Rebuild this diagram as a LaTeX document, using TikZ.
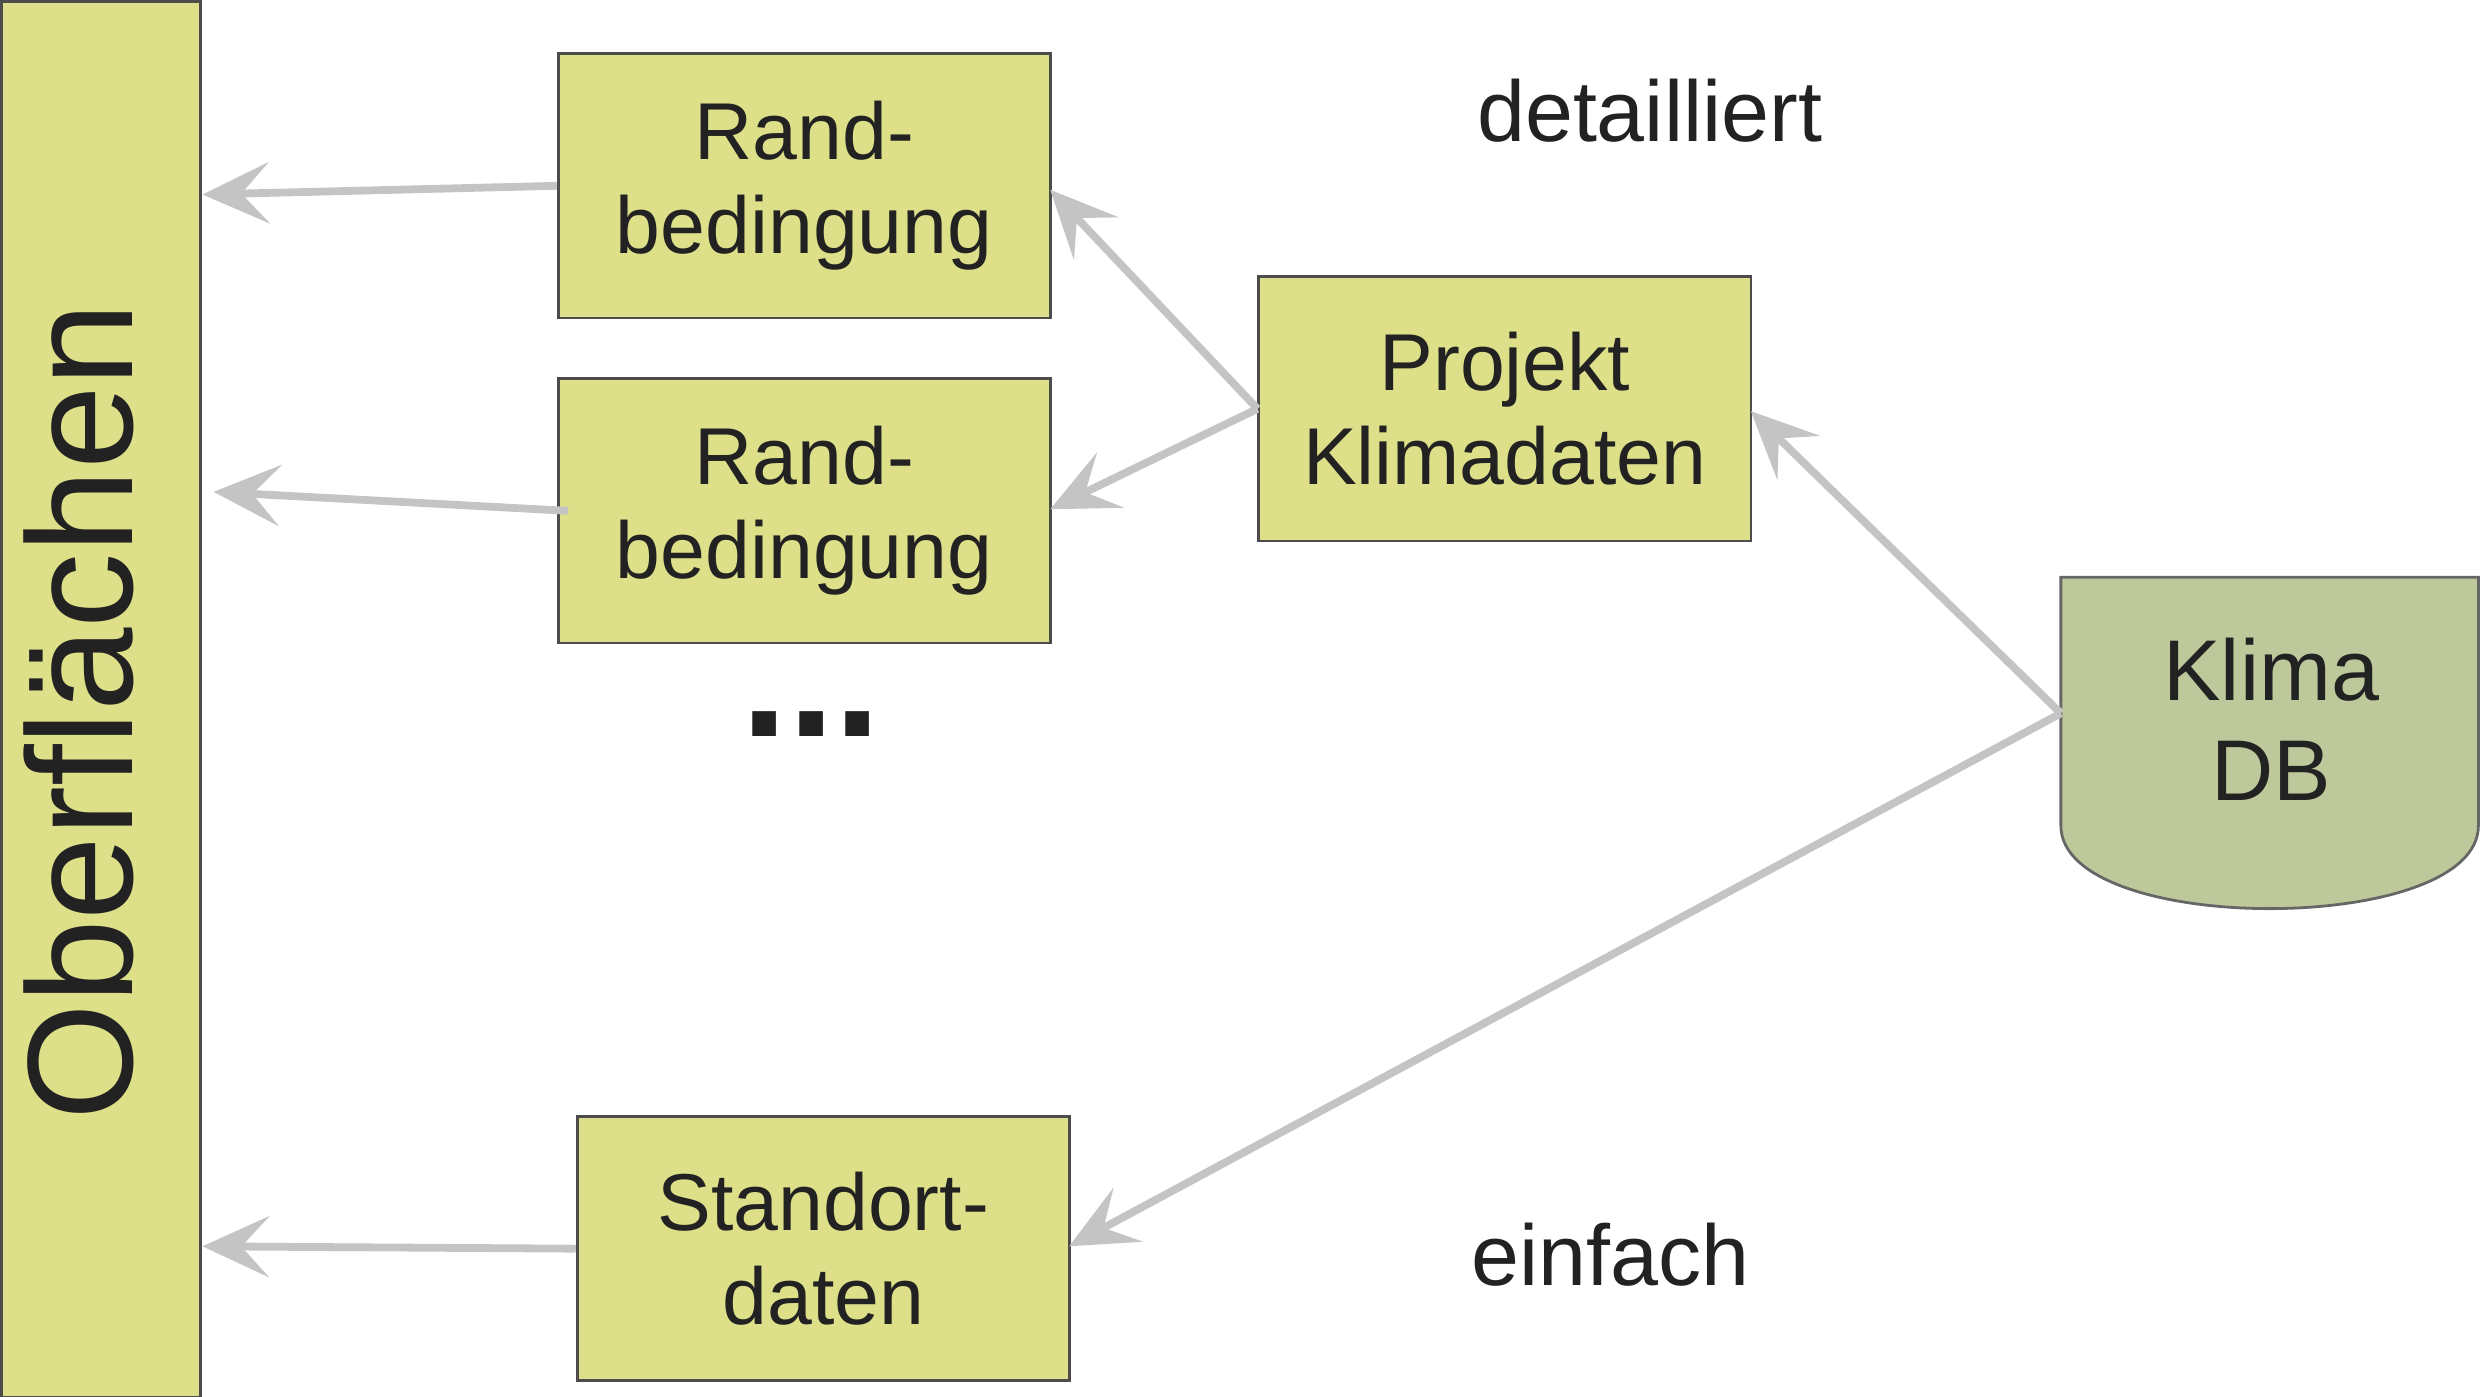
\documentclass[tikz,border=0pt]{standalone}
\usepackage{fontspec}
\setmainfont{Liberation Sans}
\usetikzlibrary{arrows.meta}
\definecolor{boxg}{HTML}{DDE089}
\definecolor{dbg}{HTML}{BDC89B}
\definecolor{arr}{HTML}{C4C4C4}
\definecolor{txt}{HTML}{222222}
\begin{document}
\begin{tikzpicture}[x=0.01cm,y=-0.01cm,
  box/.style={draw=black!70,line width=0.5pt,fill=boxg,minimum width=3.11cm,minimum height=1.67cm,align=center,inner sep=0pt,font=\fontsize{14.5}{17}\selectfont,text=txt},
  con/.style={draw=arr,line width=1.4pt,-{Stealth[length=12pt,width=11pt,inset=5pt]}},
  lbl/.style={font=\fontsize{15.5}{18}\selectfont,text=txt}]
\useasboundingbox (0,0) rectangle (1568,883);
\node[draw=black!70,line width=0.5pt,fill=boxg,minimum width=1.26cm,minimum height=8.82cm,inner sep=0pt,anchor=north west] (ob) at (0,0) {};
\node[rotate=90,font=\fontsize{27}{30}\selectfont,text=txt] at (50,450) {Oberflächen};
\node[box] (r1) at (508.5,117.5) {Rand-\\bedingung};
\node[box] (r2) at (508.5,323) {Rand-\\bedingung};
\node[box] (sd) at (520.5,789.5) {Standort-\\daten};
\node[box] (pk) at (951.5,258.5) {Projekt\\Klimadaten};
\path[draw=black!60,line width=0.5pt,fill=dbg] (1303,365) -- (1567,365) -- (1567,522) .. controls (1567,592) and (1303,592) .. (1303,522) -- cycle;
\node[lbl,align=center] (db) at (1436,455) {Klima\\DB};
\coordinate (dbw) at (1303,451);
\node[lbl] (det) at (1043,70) {detailliert};
\node[lbl] (einf) at (1018,793) {einfach};
\node[font=\fontsize{30}{30}\bfseries,text=txt] (dots) at (513,458) {...};
\draw[con] (r1.west) -- (128,123);
\draw[con] ([xshift=0.07cm]r2.west) -- (135,311);
\draw[con] (sd.west) -- (128,788);
\draw[con] (pk.west) -- (664,120);
\draw[con] (pk.west) -- (664,322);
\draw[con] (dbw) -- (1107,260);
\draw[con] (dbw) -- (676,788);
\end{tikzpicture}
\end{document}
